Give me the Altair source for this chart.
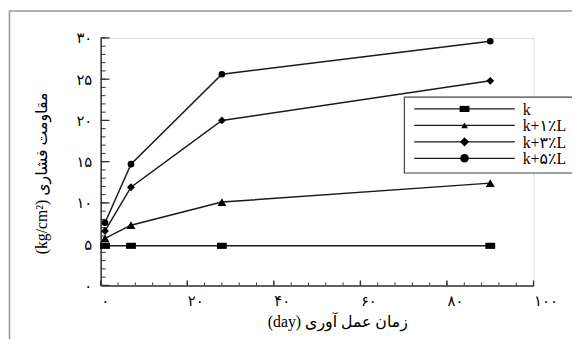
import json
import altair as alt
import pandas as pd

# ---- data ----
days = [1, 7, 28, 90]
series_names = ["k", "k+۱٪L", "k+۳٪L", "k+۵٪L"]
val_k = [4.8, 4.8, 4.8, 4.8]
val_k1 = [5.7, 7.3, 10.1, 12.4]
val_k3 = [6.6, 11.9, 20.0, 24.8]
val_k5 = [7.6, 14.7, 25.6, 29.6]

x_ticks = [0, 20, 40, 60, 80, 100]
x_tick_labels = ["۰", "۲۰", "۴۰", "۶۰", "۸۰", "۱۰۰"]
y_ticks = [0, 5, 10, 15, 20, 25, 30]
y_tick_labels = ["۰", "۵", "۱۰", "۱۵", "۲۰", "۲۵", "۳۰"]
x_minor = list(range(0, 101, 4))
y_minor = list(range(0, 31, 1))

x_title = "(day) زمان عمل آوری"
y_title = "(kg/cm²) مقاومت فشاری"

rows = []
for name, vals in zip(series_names, [val_k, val_k1, val_k3, val_k5]):
    for d, v in zip(days, vals):
        rows.append({"series": name, "day": d, "value": v})
df = pd.DataFrame(rows)

SERIF = "Liberation Serif, DejaVu Serif, DejaVu Sans"
INK = "#1a1a1a"
W, H = 439, 251

rect_path = "M-1,-0.62L1,-0.62L1,0.62L-1,0.62Z"
shapes = [rect_path, "triangle-up", "diamond", "circle"]
sizes = [100, 45, 85, 75]

def label_expr(vals, labels):
    return "%s[indexof(%s, datum.value)]" % (
        json.dumps(labels, ensure_ascii=False), json.dumps(vals))

xs = alt.Scale(domain=[0, 100], nice=False)
ys = alt.Scale(domain=[0, 30], nice=False)

xaxis = alt.Axis(values=x_ticks, labelExpr=label_expr(x_ticks, x_tick_labels),
                 grid=False, ticks=False, domainColor="#333", domainWidth=1.5,
                 labelFont=SERIF, labelFontSize=15, labelColor="#000",
                 labelAlign="left", labelPadding=8, labelFlush=False,
                 title=x_title, titleFont=SERIF, titleFontSize=16,
                 titleFontWeight="normal", titleColor="#000",
                 titleX=240, titleY=37, titleAlign="center", titleBaseline="middle")
yaxis = alt.Axis(values=y_ticks, labelExpr=label_expr(y_ticks, y_tick_labels),
                 grid=False, ticks=False, domainColor="#333", domainWidth=1.5,
                 labelFont=SERIF, labelFontSize=15, labelColor="#000",
                 labelPadding=9, labelBaseline="middle", labelFlush=False,
                 title=y_title, titleFont=SERIF, titleFontSize=16,
                 titleFontWeight="normal", titleColor="#000", titleAngle=270,
                 titleX=-60, titleY=137, titleAlign="center", titleBaseline="middle")

one = pd.DataFrame({"a": [0]})

frame = alt.Chart(one).mark_rect(fill=None, stroke="#9a9a9a", strokeWidth=1.6).encode(
    x=alt.value(-92.5), x2=alt.value(700), y=alt.value(-27.3), y2=alt.value(500))

lines = alt.Chart(df).mark_line(color=INK, strokeWidth=1.5).encode(
    x=alt.X("day:Q", scale=xs, axis=xaxis),
    y=alt.Y("value:Q", scale=ys, axis=yaxis),
    detail="series:N",
)
points = alt.Chart(df).mark_point(filled=True, opacity=1, color="#000").encode(
    x=alt.X("day:Q", scale=xs),
    y=alt.Y("value:Q", scale=ys),
    shape=alt.Shape("series:N", scale=alt.Scale(domain=series_names, range=shapes), legend=None),
    size=alt.Size("series:N", scale=alt.Scale(domain=series_names, range=sizes), legend=None),
)

xmaj = alt.Chart(pd.DataFrame({"t": x_ticks})).mark_rule(color="#333", strokeWidth=1.4).encode(
    x=alt.X("t:Q", scale=xs), y=alt.value(H), y2=alt.value(H - 5))
xmin = alt.Chart(pd.DataFrame({"t": x_minor})).mark_rule(color="#333", strokeWidth=1).encode(
    x=alt.X("t:Q", scale=xs), y=alt.value(H), y2=alt.value(H - 3))
ymaj = alt.Chart(pd.DataFrame({"t": y_ticks})).mark_rule(color="#333", strokeWidth=1.3).encode(
    y=alt.Y("t:Q", scale=ys), x=alt.value(0), x2=alt.value(9))
ymin = alt.Chart(pd.DataFrame({"t": y_minor})).mark_rule(color="#333", strokeWidth=1).encode(
    y=alt.Y("t:Q", scale=ys), x=alt.value(0), x2=alt.value(5))

# legend (drawn by hand to show line + marker)
leg_box = alt.Chart(one).mark_rect(fill="white", stroke="#444", strokeWidth=1.2).encode(
    x=alt.value(308), x2=alt.value(520), y=alt.value(60), y2=alt.value(137))
leg_layers = [leg_box]
row_y0, row_dy = 72, 16.7
for i, name in enumerate(series_names):
    yy = row_y0 + i * row_dy
    d = pd.DataFrame({"series": [name]})
    leg_layers.append(alt.Chart(d).mark_rule(color=INK, strokeWidth=1.4).encode(
        x=alt.value(318), x2=alt.value(420), y=alt.value(yy)))
    leg_layers.append(alt.Chart(d).mark_point(filled=True, opacity=1, color="#000",
                                              shape=shapes[i], size=sizes[i]).encode(
        x=alt.value(369), y=alt.value(yy)))
    leg_layers.append(alt.Chart(d).mark_text(align="left", baseline="middle", font=SERIF,
                                             fontSize=16, color="#000").encode(
        x=alt.value(428), y=alt.value(yy + 1), text="series:N"))

chart = alt.layer(frame, xmin, xmaj, ymin, ymaj, lines, points, *leg_layers).properties(
    width=W, height=H,
    autosize=alt.AutoSizeParams(type="none"),
    padding={"left": 94, "top": 28, "right": 39, "bottom": 52},
).configure_view(stroke=None).configure(background="white")

chart.save("out.html", embed_options={"renderer": "svg", "actions": False})
